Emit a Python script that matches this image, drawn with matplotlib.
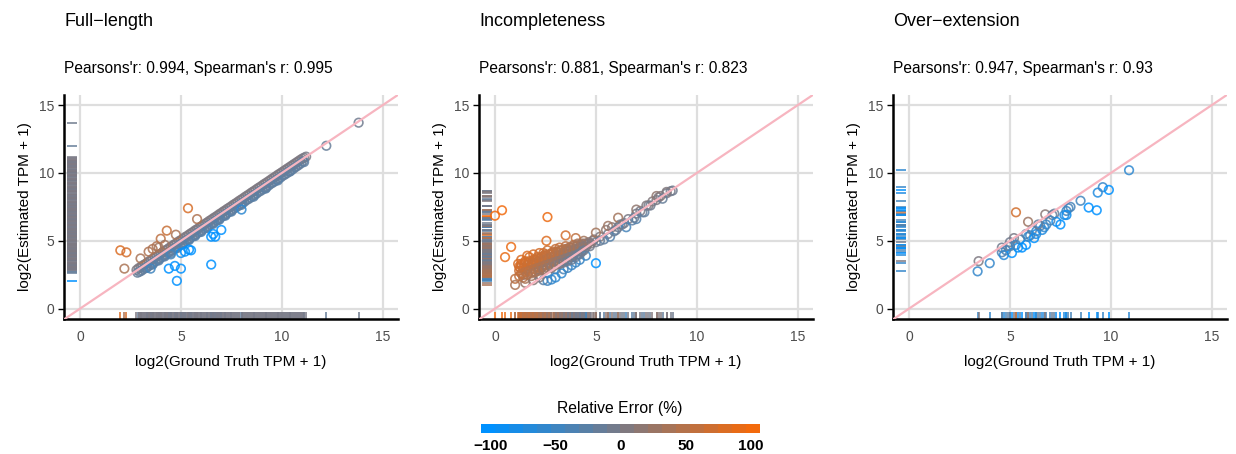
import numpy as np
import matplotlib
matplotlib.use('Agg')
import matplotlib.pyplot as plt
from matplotlib.colors import LinearSegmentedColormap, Normalize

plt.rcParams['font.family'] = ['Liberation Sans', 'DejaVu Sans']

# ---- data (log2(TPM + 1)) ----
# full-length: dense band along the diagonal + outliers
full_gt = [2.8, 2.9, 3.0, 3.1, 3.2, 3.3, 3.4, 3.5, 3.6, 3.7, 3.8, 3.9, 4.0, 4.1, 4.2, 4.3,
           4.4, 4.5, 4.6, 4.7, 4.8, 4.9, 5.0, 5.1, 5.2, 5.3, 5.4, 5.5, 5.6, 5.7, 5.8, 5.9,
           6.0, 6.1, 6.2, 6.3, 6.4, 6.5, 6.6, 6.7, 6.8, 6.9, 7.0, 7.1, 7.2, 7.3, 7.4, 7.5,
           7.6, 7.7, 7.8, 7.9, 8.0, 8.1, 8.2, 8.3, 8.4, 8.5, 8.6, 8.7, 8.8, 8.9, 9.0, 9.1,
           9.2, 9.3, 9.4, 9.5, 9.6, 9.7, 9.8, 9.9, 10.0, 10.1, 10.2, 10.3, 10.4, 10.5, 10.6,
           10.7, 10.8, 10.9, 11.0, 11.1, 11.2,
           2.85, 2.95, 3.05, 3.15, 3.25, 3.35, 3.45, 3.55, 3.65, 3.75, 3.85, 3.95, 4.05, 4.15,
           4.25, 4.35, 4.45, 4.55, 4.65, 4.75, 4.85, 4.95, 5.05, 5.15, 5.25, 5.35, 5.45, 5.55,
           5.65, 5.75, 5.85, 5.95, 6.05, 6.15, 6.25, 6.35, 6.45, 6.55, 6.65, 6.75, 6.85, 6.95,
           7.05, 7.15, 7.25, 7.35, 7.45, 7.55, 7.65, 7.75, 7.85, 7.95, 8.05, 8.15, 8.25, 8.35,
           8.45, 8.55, 8.65, 8.75, 8.85, 8.95, 9.05, 9.15, 9.25, 9.35, 9.45, 9.55, 9.65, 9.75,
           9.85, 9.95, 10.05, 10.15, 10.25, 10.35, 10.45, 10.55, 10.65, 10.75, 10.85, 10.95, 11.05,
           3.3, 3.6, 3.9, 4.2, 4.5, 4.8, 5.1, 5.4, 5.7, 6.0, 6.3, 6.6, 6.9, 7.2, 7.5, 8.0,
           8.6, 9.2, 9.8, 10.4, 11.1,
           2.0, 2.3, 2.2, 3.0, 3.4, 3.6, 3.8, 4.0, 4.2, 4.3, 4.75, 5.35, 5.8, 3.9,
           4.8, 4.4, 4.7, 5.0, 6.5, 5.2, 5.0, 4.5, 6.7, 6.5, 6.6, 7.0, 5.5, 5.4,
           12.2, 13.8, 8.0, 9.2, 6.8, 3.5]
full_est = [2.85, 2.98, 3.05, 3.18, 3.26, 3.35, 3.47, 3.55, 3.68, 3.76, 3.85, 3.97, 4.05, 4.16,
            4.27, 4.35, 4.46, 4.55, 4.67, 4.75, 4.86, 4.97, 5.05, 5.15, 5.27, 5.35, 5.46, 5.56,
            5.65, 5.77, 5.85, 5.96, 6.06, 6.15, 6.26, 6.35, 6.46, 6.55, 6.66, 6.75, 6.85, 6.96,
            7.05, 7.16, 7.25, 7.36, 7.45, 7.55, 7.66, 7.75, 7.85, 7.96, 8.05, 8.15, 8.26, 8.35,
            8.45, 8.56, 8.65, 8.75, 8.86, 8.95, 9.05, 9.16, 9.25, 9.35, 9.45, 9.56, 9.65, 9.75,
            9.86, 9.95, 10.05, 10.15, 10.25, 10.35, 10.45, 10.55, 10.65, 10.75, 10.85, 10.95,
            11.05, 11.12, 11.2,
            2.65, 2.72, 2.8, 2.92, 3.0, 3.08, 3.2, 3.28, 3.38, 3.5, 3.58, 3.68, 3.8, 3.88,
            3.98, 4.1, 4.18, 4.28, 4.4, 4.48, 4.58, 4.7, 4.78, 4.88, 5.0, 5.08, 5.18, 5.3,
            5.38, 5.48, 5.6, 5.68, 5.78, 5.9, 5.98, 6.08, 6.2, 6.28, 6.38, 6.5, 6.58, 6.68,
            6.8, 6.88, 6.98, 7.1, 7.18, 7.28, 7.4, 7.48, 7.58, 7.7, 7.78, 7.88, 8.0, 8.08,
            8.18, 8.3, 8.38, 8.48, 8.6, 8.68, 8.78, 8.9, 8.98, 9.08, 9.2, 9.28, 9.38, 9.5,
            9.58, 9.68, 9.8, 9.88, 9.98, 10.1, 10.18, 10.28, 10.4, 10.5, 10.6, 10.72, 10.85,
            3.0, 3.25, 3.55, 3.85, 4.1, 4.45, 4.75, 5.05, 5.35, 5.65, 5.95, 6.25, 6.55, 6.85,
            7.15, 7.65, 8.25, 8.85, 9.45, 10.1, 10.8,
            4.3, 4.15, 2.95, 3.7, 4.2, 4.4, 4.6, 5.15, 4.7, 5.75, 5.45, 7.4, 6.6, 4.5,
            2.05, 2.95, 3.15, 2.95, 3.25, 4.2, 4.1, 4.0, 5.3, 5.3, 5.5, 5.8, 4.3, 4.35,
            12.0, 13.7, 7.3, 8.9, 6.5, 2.95]

# incompleteness: estimates pushed above the diagonal at low expression
inc_gt = [0.0, 0.35, 2.6, 0.8, 0.5, 2.55, 2.4, 5.0, 1.0, 1.0, 1.15,
          1.2, 1.3, 1.4, 1.5, 1.5, 1.6, 1.7, 1.8, 1.8, 1.9, 2.0, 2.0, 2.1, 2.2, 2.2, 2.3,
          2.4, 2.4, 2.5, 2.6, 2.6, 2.7, 2.8, 2.8, 2.9, 3.0, 3.0, 3.1, 3.2, 3.2, 3.3, 3.4,
          3.5, 3.6, 3.6, 3.7, 3.8, 3.9, 4.0, 4.1, 4.2, 4.3, 4.4, 4.5, 4.6, 4.7, 4.9, 5.0, 5.2,
          1.3, 1.6, 1.9, 2.1, 2.3, 2.5, 2.7, 2.9, 3.1, 3.3, 3.5, 3.7, 3.9, 4.1, 4.3,
          1.25, 1.35, 1.45, 1.55, 1.65, 1.75, 1.85, 1.95, 2.05, 2.15, 2.25, 2.35, 2.45,
          2.55, 2.65, 2.75, 2.85, 2.95, 3.05, 3.15, 3.25, 3.35, 3.45, 3.55, 3.65, 3.75,
          3.85, 3.95, 4.05, 4.15, 4.25, 4.35, 4.45, 4.55, 4.65, 4.75, 4.85,
          1.5, 1.9, 2.4, 2.6, 2.8, 3.0, 3.3, 3.6, 3.8, 4.2, 4.5, 2.2, 3.4, 4.0,
          5.5, 5.6, 5.8, 6.0, 6.2, 6.4, 6.6, 6.8, 7.0, 7.2, 7.4, 7.6, 7.8, 8.0, 8.2, 8.5,
          8.7, 8.8, 5.4, 5.7, 6.1, 6.5, 7.0, 3.5, 4.0, 5.0, 5.6, 6.1, 7.0, 7.5, 8.0, 8.1, 8.5,
          5.2, 5.9, 6.3, 6.9, 7.3, 7.7, 8.3]
inc_est = [6.85, 7.25, 6.75, 4.55, 3.8, 5.0, 4.1, 3.35, 2.2, 1.75, 3.3,
           2.8, 3.2, 2.5, 3.5, 2.2, 2.9, 3.8, 2.4, 3.3, 4.0, 2.7, 3.6, 3.1, 4.1, 2.5, 3.4,
           2.8, 3.9, 3.2, 4.3, 2.6, 3.7, 3.0, 4.1, 3.5, 4.4, 2.9, 3.8, 3.3, 4.5, 4.0, 3.5,
           4.6, 4.0, 3.6, 4.3, 3.8, 4.7, 4.2, 4.0, 4.6, 4.3, 5.0, 4.5, 4.8, 4.6, 5.1, 4.9, 5.3,
           3.6, 3.9, 3.4, 3.8, 3.0, 4.0, 3.4, 4.2, 4.1, 3.7, 4.3, 4.5, 4.1, 4.8, 4.7,
           3.0, 2.6, 3.3, 2.9, 3.4, 3.1, 2.7, 3.5, 3.3, 2.9, 3.7, 3.2, 3.5,
           3.9, 3.3, 4.0, 3.6, 3.9, 4.2, 3.7, 4.3, 3.9, 4.1, 4.4, 4.2, 4.5,
           4.2, 4.4, 4.6, 4.4, 4.7, 4.6, 4.8, 4.7, 4.9, 4.8, 5.0,
           1.9, 2.1, 2.1, 2.05, 2.15, 2.3, 2.6, 3.0, 3.2, 3.6, 3.9, 2.3, 2.9, 3.4,
           5.8, 5.5, 6.0, 5.8, 6.2, 6.3, 6.6, 6.5, 7.0, 7.2, 7.1, 7.6, 7.9, 8.0, 8.3, 8.5,
           8.65, 8.7, 5.1, 5.3, 6.0, 6.0, 6.6, 5.4, 5.2, 5.6, 6.1, 6.7, 7.3, 7.6, 8.3, 8.2, 8.6,
           5.0, 5.7, 6.2, 6.7, 7.1, 7.6, 8.1]
# the solid orange cloud of the incompleteness panel
inc_cloud_gt = [1.2, 1.3, 1.4, 1.5, 1.6, 1.7, 1.8, 1.9, 2.0, 2.1, 2.2, 2.3, 2.4, 2.5, 2.6,
                2.7, 2.8, 2.9, 3.0, 3.1, 3.2, 3.3, 3.4, 3.5, 3.6, 3.7, 3.8, 3.9, 4.0, 4.1,
                4.2, 4.3, 4.4]
inc_cloud_hi = [3.1, 3.3, 3.0, 3.4, 3.2, 3.5, 3.3, 3.6, 3.4, 3.7, 3.5, 3.8, 3.6, 3.9, 3.7,
                4.0, 3.8, 4.1, 3.9, 4.2, 4.0, 4.3, 4.1, 4.4, 4.2, 4.5, 4.3, 4.6, 4.4, 4.7,
                4.5, 4.8, 4.6]
inc_cloud_lo = [2.4, 2.6, 2.3, 2.7, 2.5, 2.8, 2.6, 2.9, 2.7, 3.0, 2.8, 3.1, 2.9, 3.2, 3.0,
                3.3, 3.1, 3.4, 3.2, 3.5, 3.3, 3.6, 3.4, 3.7, 3.5, 3.8, 3.6, 3.9, 3.8, 4.0,
                4.0, 4.2, 4.3]

# over-extension: sparse set, mostly a little below the diagonal
over_gt = [3.4, 3.45, 4.0, 4.6, 4.6, 4.7, 4.9, 5.0, 5.1, 5.2, 5.3, 5.3, 5.4, 5.5, 5.6,
           5.8, 5.8, 5.9, 5.9, 6.0, 6.1, 6.2, 6.3, 6.3, 6.5, 6.6, 6.7, 6.8, 6.75, 7.1,
           7.2, 7.3, 7.5, 7.7, 7.8, 7.9, 8.0, 7.8, 8.5, 8.9, 9.3, 9.35, 9.6, 9.9, 10.9,
           5.0, 4.8, 6.4, 7.0]
over_est = [2.75, 3.5, 3.35, 4.5, 4.15, 3.95, 4.6, 4.9, 4.1, 5.2, 4.7, 7.1, 4.5, 5.1, 4.5,
            4.7, 5.5, 5.3, 6.4, 5.4, 5.8, 5.2, 5.7, 5.5, 6.1, 5.8, 6.0, 6.2, 6.95, 6.9,
            7.0, 6.4, 6.2, 6.9, 7.2, 7.4, 7.5, 6.9, 7.95, 7.45, 7.25, 8.55, 8.95, 8.75, 10.2,
            4.6, 4.3, 6.2, 6.5]

panel_titles = ['Full\u2212length', 'Incompleteness', 'Over\u2212extension']
pearson = ['0.994', '0.881', '0.947']
spearman = ['0.995', '0.823', '0.93']
cbar_ticks = [-100, -50, 0, 50, 100]

cmap = LinearSegmentedColormap.from_list('relerr', ['#0091ff', '#7a7a86', '#f36a0c'])
norm = Normalize(-100, 100)


def rel_error(gt, est):
    # (estimate - truth) / estimate on the (TPM + 1) scale, in percent
    gt = np.asarray(gt, dtype=float)
    est = np.asarray(est, dtype=float)
    return np.clip((1 - 2.0 ** (gt - est)) * 100, -100, 100)


W, H = 1236, 454
fig = plt.figure(figsize=(W / 100, H / 100), dpi=100)

lefts = [64, 479, 893]
panel_w = 334
top_px, bot_px = 95, 319
datasets = [(full_gt, full_est),
            (inc_gt + inc_cloud_gt + inc_cloud_gt, inc_est + inc_cloud_hi + inc_cloud_lo),
            (over_gt, over_est)]
# full-length has thousands of near-zero transcripts covering its rug
rug_neutral_on_top = [True, False, False]

for i, (gt, est) in enumerate(datasets):
    ax = fig.add_axes([lefts[i] / W, 1 - bot_px / H, panel_w / W, (bot_px - top_px) / H])
    gt = np.asarray(gt)
    est = np.asarray(est)
    err = rel_error(gt, est)
    cols = cmap(norm(err))
    if rug_neutral_on_top[i]:
        order = np.argsort(-np.abs(err))
    else:
        order = np.arange(len(gt))

    ax.set_xlim(-0.79, 15.75)
    ax.set_ylim(-0.76, 15.74)
    ax.set_xticks([0, 5, 10, 15])
    ax.set_yticks([0, 5, 10, 15])
    ax.grid(True, color='#dedede', linewidth=1.6)
    ax.set_axisbelow(True)

    ax.vlines(gt[order], 0, 0.032, transform=ax.get_xaxis_transform(), colors=cols[order],
              linewidth=1.3, alpha=0.85, zorder=2)
    ax.hlines(est[order], 0.008, 0.04, transform=ax.get_yaxis_transform(), colors=cols[order],
              linewidth=1.3, alpha=0.85, zorder=2)

    ax.scatter(gt, est, s=38, facecolors='none', edgecolors=cols, linewidths=1.2,
               alpha=0.85, zorder=3)
    ax.plot([-1, 16], [-1, 16], color='#f7b5c0', linewidth=1.6, zorder=4)

    for s in ['top', 'right']:
        ax.spines[s].set_visible(False)
    for s in ['left', 'bottom']:
        ax.spines[s].set_linewidth(1.8)
        ax.spines[s].set_color('black')
    ax.tick_params(axis='y', length=4, width=1, color='black', labelcolor='#4d4d4d',
                   labelsize=10, pad=3)
    ax.tick_params(axis='x', length=0, labelcolor='#4d4d4d', labelsize=10, pad=8)
    ax.set_xlabel('log2(Ground Truth TPM + 1)', fontsize=11, labelpad=8)
    ax.set_ylabel('log2(Estimated TPM + 1)', fontsize=11, labelpad=5)

    fig.text(lefts[i] / W, 1 - 22 / H, panel_titles[i], fontsize=13, va='center', ha='left')
    fig.text(lefts[i] / W, 1 - 68 / H,
             "Pearsons'r: %s, Spearman's r: %s" % (pearson[i], spearman[i]),
             fontsize=11.2, va='center', ha='left')

# colour bar
cax = fig.add_axes([481 / W, 1 - 433 / H, 279 / W, 9 / H])
bins = np.linspace(-107, 107, 21)
centers = (bins[:-1] + bins[1:]) / 2
cax.imshow(centers[np.newaxis, :], cmap=cmap, norm=norm, aspect='auto',
           extent=(-107, 107, 0, 1))
cax.set_xlim(-107, 107)
cax.set_yticks([])
cax.set_xticks(cbar_ticks)
cax.set_xticklabels([str(t).replace('-', '\u2212') for t in cbar_ticks], fontweight='bold')
cax.tick_params(axis='x', length=0, labelsize=11, pad=4)
for s in cax.spines.values():
    s.set_visible(False)
fig.text(620 / W, 1 - 408 / H, 'Relative Error (%)', fontsize=11.3, ha='center', va='center')

fig.savefig('out.png', dpi=100)
